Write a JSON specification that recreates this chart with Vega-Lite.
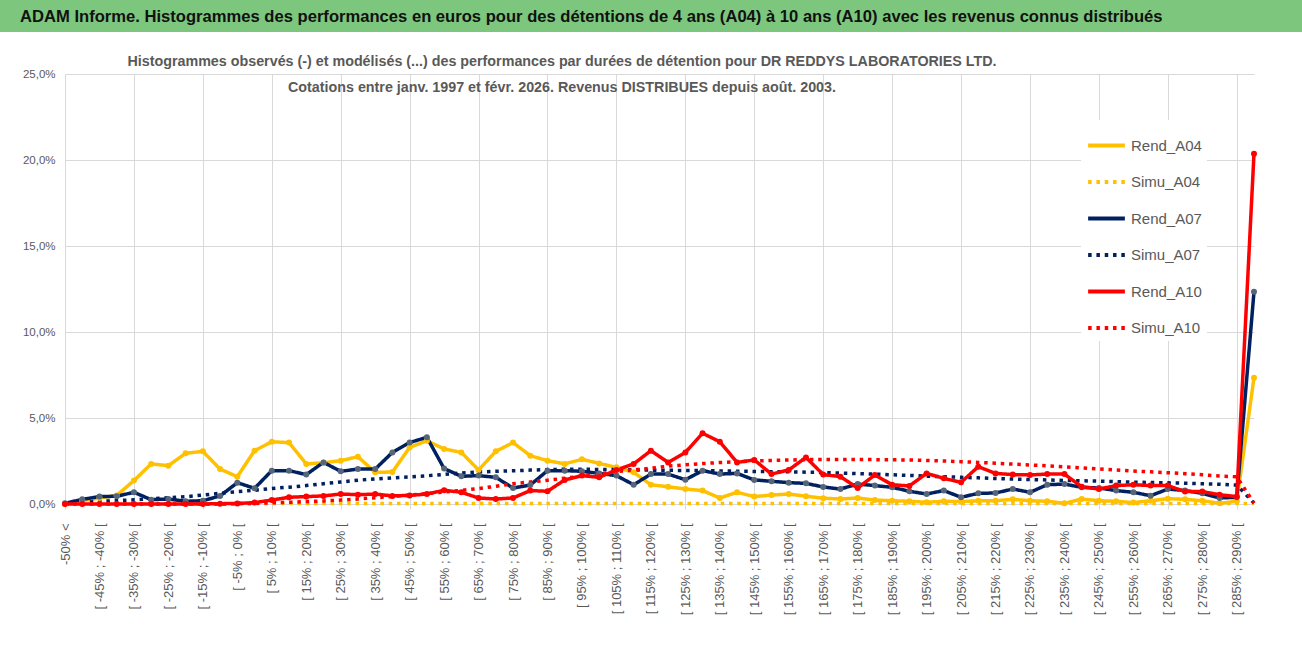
{
  "$schema": "https://vega.github.io/schema/vega-lite/v6.json",
  "background": "white",
  "padding": 0,
  "spacing": 22,
  "config": {"font": "Liberation Sans", "view": {"stroke": null}},
  "vconcat": [
    {
      "data": {"values": [{}]},
      "width": 1302,
      "height": 32,
      "view": {"fill": "#7DC67D", "stroke": null},
      "title": {
        "text": "ADAM Informe. Histogrammes des performances en euros pour des détentions de 4 ans (A04) à 10 ans (A10) avec les revenus connus distribués",
        "anchor": "start",
        "frame": "group",
        "dx": 20,
        "offset": -26,
        "font": "Liberation Sans",
        "fontSize": 16.6,
        "fontWeight": "bold",
        "color": "#111111"
      },
      "mark": {"type": "rect", "color": "#7DC67D"},
      "encoding": {}
    },
    {
      "width": 1302,
      "height": 430,
      "title": {
        "text": [
          "Histogrammes observés (-) et modélisés (...) des performances par durées de détention pour DR REDDYS LABORATORIES LTD.",
          "Cotations entre janv. 1997 et févr. 2026. Revenus DISTRIBUES depuis août. 2003."
        ],
        "anchor": "middle",
        "frame": "group",
        "dx": -89,
        "offset": -27,
        "font": "Liberation Sans",
        "fontSize": 14.3,
        "fontWeight": "bold",
        "color": "#595959",
        "lineHeight": 26
      },
      "data": {
        "values": [
          {"c": "-50% <", "Rend_A04": 0, "Simu_A04": 0, "Rend_A07": 0.04, "Simu_A07": 0, "Rend_A10": 0, "Simu_A10": 0},
          {"c": "[ -50% ; -45% [", "Rend_A04": 0.2, "Simu_A04": 0, "Rend_A07": 0.27, "Simu_A07": 0.08, "Rend_A10": 0, "Simu_A10": 0},
          {"c": "[ -45% ; -40% [", "Rend_A04": 0.35, "Simu_A04": 0, "Rend_A07": 0.43, "Simu_A07": 0.15, "Rend_A10": 0, "Simu_A10": 0},
          {"c": "[ -40% ; -35% [", "Rend_A04": 0.5, "Simu_A04": 0, "Rend_A07": 0.45, "Simu_A07": 0.2, "Rend_A10": 0, "Simu_A10": 0},
          {"c": "[ -35% ; -30% [", "Rend_A04": 1.36, "Simu_A04": 0, "Rend_A07": 0.68, "Simu_A07": 0.24, "Rend_A10": 0, "Simu_A10": 0},
          {"c": "[ -30% ; -25% [", "Rend_A04": 2.33, "Simu_A04": 0, "Rend_A07": 0.25, "Simu_A07": 0.3, "Rend_A10": 0, "Simu_A10": 0},
          {"c": "[ -25% ; -20% [", "Rend_A04": 2.23, "Simu_A04": 0, "Rend_A07": 0.29, "Simu_A07": 0.36, "Rend_A10": 0, "Simu_A10": 0},
          {"c": "[ -20% ; -15% [", "Rend_A04": 2.95, "Simu_A04": 0, "Rend_A07": 0.16, "Simu_A07": 0.42, "Rend_A10": 0, "Simu_A10": 0},
          {"c": "[ -15% ; -10% [", "Rend_A04": 3.06, "Simu_A04": 0, "Rend_A07": 0.19, "Simu_A07": 0.52, "Rend_A10": 0, "Simu_A10": 0},
          {"c": "[ -10% ; -5% [", "Rend_A04": 2.03, "Simu_A04": 0, "Rend_A07": 0.47, "Simu_A07": 0.62, "Rend_A10": 0.02, "Simu_A10": 0},
          {"c": "[ -5% ; 0% [", "Rend_A04": 1.59, "Simu_A04": 0.02, "Rend_A07": 1.24, "Simu_A07": 0.72, "Rend_A10": 0.03, "Simu_A10": 0.02},
          {"c": "[ 0% ; 5% [", "Rend_A04": 3.1, "Simu_A04": 0.03, "Rend_A07": 0.91, "Simu_A07": 0.8, "Rend_A10": 0.08, "Simu_A10": 0.04},
          {"c": "[ 5% ; 10% [", "Rend_A04": 3.62, "Simu_A04": 0.03, "Rend_A07": 1.94, "Simu_A07": 0.9, "Rend_A10": 0.23, "Simu_A10": 0.07},
          {"c": "[ 10% ; 15% [", "Rend_A04": 3.57, "Simu_A04": 0.03, "Rend_A07": 1.94, "Simu_A07": 0.98, "Rend_A10": 0.39, "Simu_A10": 0.1},
          {"c": "[ 15% ; 20% [", "Rend_A04": 2.33, "Simu_A04": 0.03, "Rend_A07": 1.71, "Simu_A07": 1.07, "Rend_A10": 0.43, "Simu_A10": 0.14},
          {"c": "[ 20% ; 25% [", "Rend_A04": 2.4, "Simu_A04": 0.03, "Rend_A07": 2.42, "Simu_A07": 1.18, "Rend_A10": 0.47, "Simu_A10": 0.18},
          {"c": "[ 25% ; 30% [", "Rend_A04": 2.52, "Simu_A04": 0.03, "Rend_A07": 1.9, "Simu_A07": 1.28, "Rend_A10": 0.58, "Simu_A10": 0.23},
          {"c": "[ 30% ; 35% [", "Rend_A04": 2.75, "Simu_A04": 0.03, "Rend_A07": 2.03, "Simu_A07": 1.38, "Rend_A10": 0.54, "Simu_A10": 0.29},
          {"c": "[ 35% ; 40% [", "Rend_A04": 1.84, "Simu_A04": 0.03, "Rend_A07": 2.03, "Simu_A07": 1.46, "Rend_A10": 0.58, "Simu_A10": 0.36},
          {"c": "[ 40% ; 45% [", "Rend_A04": 1.86, "Simu_A04": 0.03, "Rend_A07": 3.0, "Simu_A07": 1.52, "Rend_A10": 0.47, "Simu_A10": 0.44},
          {"c": "[ 45% ; 50% [", "Rend_A04": 3.29, "Simu_A04": 0.03, "Rend_A07": 3.57, "Simu_A07": 1.58, "Rend_A10": 0.5, "Simu_A10": 0.52},
          {"c": "[ 50% ; 55% [", "Rend_A04": 3.68, "Simu_A04": 0.03, "Rend_A07": 3.88, "Simu_A07": 1.64, "Rend_A10": 0.58, "Simu_A10": 0.61},
          {"c": "[ 55% ; 60% [", "Rend_A04": 3.2, "Simu_A04": 0.03, "Rend_A07": 2.06, "Simu_A07": 1.72, "Rend_A10": 0.8, "Simu_A10": 0.7},
          {"c": "[ 60% ; 65% [", "Rend_A04": 3.0, "Simu_A04": 0.03, "Rend_A07": 1.61, "Simu_A07": 1.8, "Rend_A10": 0.68, "Simu_A10": 0.79},
          {"c": "[ 65% ; 70% [", "Rend_A04": 1.98, "Simu_A04": 0.03, "Rend_A07": 1.65, "Simu_A07": 1.86, "Rend_A10": 0.35, "Simu_A10": 0.9},
          {"c": "[ 70% ; 75% [", "Rend_A04": 3.06, "Simu_A04": 0.03, "Rend_A07": 1.55, "Simu_A07": 1.9, "Rend_A10": 0.29, "Simu_A10": 1.03},
          {"c": "[ 75% ; 80% [", "Rend_A04": 3.57, "Simu_A04": 0.03, "Rend_A07": 0.93, "Simu_A07": 1.93, "Rend_A10": 0.35, "Simu_A10": 1.18},
          {"c": "[ 80% ; 85% [", "Rend_A04": 2.81, "Simu_A04": 0.03, "Rend_A07": 1.1, "Simu_A07": 1.97, "Rend_A10": 0.78, "Simu_A10": 1.28},
          {"c": "[ 85% ; 90% [", "Rend_A04": 2.52, "Simu_A04": 0.03, "Rend_A07": 1.94, "Simu_A07": 2.0, "Rend_A10": 0.74, "Simu_A10": 1.38},
          {"c": "[ 90% ; 95% [", "Rend_A04": 2.33, "Simu_A04": 0.03, "Rend_A07": 1.94, "Simu_A07": 2.02, "Rend_A10": 1.4, "Simu_A10": 1.5},
          {"c": "[ 95% ; 100% [", "Rend_A04": 2.6, "Simu_A04": 0.03, "Rend_A07": 1.9, "Simu_A07": 2.02, "Rend_A10": 1.65, "Simu_A10": 1.62},
          {"c": "[ 100% ; 105% [", "Rend_A04": 2.36, "Simu_A04": 0.03, "Rend_A07": 1.78, "Simu_A07": 2.01, "Rend_A10": 1.55, "Simu_A10": 1.75},
          {"c": "[ 105% ; 110% [", "Rend_A04": 2.13, "Simu_A04": 0.03, "Rend_A07": 1.65, "Simu_A07": 2.0, "Rend_A10": 1.98, "Simu_A10": 1.88},
          {"c": "[ 110% ; 115% [", "Rend_A04": 1.84, "Simu_A04": 0.03, "Rend_A07": 1.12, "Simu_A07": 1.98, "Rend_A10": 2.33, "Simu_A10": 1.98},
          {"c": "[ 115% ; 120% [", "Rend_A04": 1.12, "Simu_A04": 0.03, "Rend_A07": 1.74, "Simu_A07": 1.97, "Rend_A10": 3.1, "Simu_A10": 2.08},
          {"c": "[ 120% ; 125% [", "Rend_A04": 1.0, "Simu_A04": 0.03, "Rend_A07": 1.74, "Simu_A07": 1.96, "Rend_A10": 2.42, "Simu_A10": 2.2},
          {"c": "[ 125% ; 130% [", "Rend_A04": 0.87, "Simu_A04": 0.03, "Rend_A07": 1.41, "Simu_A07": 1.95, "Rend_A10": 3.0, "Simu_A10": 2.28},
          {"c": "[ 130% ; 135% [", "Rend_A04": 0.78, "Simu_A04": 0.03, "Rend_A07": 1.94, "Simu_A07": 1.94, "Rend_A10": 4.11, "Simu_A10": 2.35},
          {"c": "[ 135% ; 140% [", "Rend_A04": 0.35, "Simu_A04": 0.03, "Rend_A07": 1.74, "Simu_A07": 1.92, "Rend_A10": 3.62, "Simu_A10": 2.41},
          {"c": "[ 140% ; 145% [", "Rend_A04": 0.68, "Simu_A04": 0.03, "Rend_A07": 1.78, "Simu_A07": 1.91, "Rend_A10": 2.42, "Simu_A10": 2.46},
          {"c": "[ 145% ; 150% [", "Rend_A04": 0.43, "Simu_A04": 0.03, "Rend_A07": 1.4, "Simu_A07": 1.89, "Rend_A10": 2.56, "Simu_A10": 2.5},
          {"c": "[ 150% ; 155% [", "Rend_A04": 0.52, "Simu_A04": 0.03, "Rend_A07": 1.32, "Simu_A07": 1.88, "Rend_A10": 1.74, "Simu_A10": 2.53},
          {"c": "[ 155% ; 160% [", "Rend_A04": 0.58, "Simu_A04": 0.03, "Rend_A07": 1.24, "Simu_A07": 1.87, "Rend_A10": 1.98, "Simu_A10": 2.56},
          {"c": "[ 160% ; 165% [", "Rend_A04": 0.45, "Simu_A04": 0.03, "Rend_A07": 1.2, "Simu_A07": 1.85, "Rend_A10": 2.71, "Simu_A10": 2.58},
          {"c": "[ 165% ; 170% [", "Rend_A04": 0.34, "Simu_A04": 0.03, "Rend_A07": 0.99, "Simu_A07": 1.83, "Rend_A10": 1.71, "Simu_A10": 2.59},
          {"c": "[ 170% ; 175% [", "Rend_A04": 0.29, "Simu_A04": 0.03, "Rend_A07": 0.87, "Simu_A07": 1.8, "Rend_A10": 1.59, "Simu_A10": 2.59},
          {"c": "[ 175% ; 180% [", "Rend_A04": 0.35, "Simu_A04": 0.03, "Rend_A07": 1.16, "Simu_A07": 1.77, "Rend_A10": 0.93, "Simu_A10": 2.59},
          {"c": "[ 180% ; 185% [", "Rend_A04": 0.23, "Simu_A04": 0.03, "Rend_A07": 1.07, "Simu_A07": 1.74, "Rend_A10": 1.69, "Simu_A10": 2.58},
          {"c": "[ 185% ; 190% [", "Rend_A04": 0.19, "Simu_A04": 0.03, "Rend_A07": 0.97, "Simu_A07": 1.7, "Rend_A10": 1.12, "Simu_A10": 2.57},
          {"c": "[ 190% ; 195% [", "Rend_A04": 0.16, "Simu_A04": 0.03, "Rend_A07": 0.74, "Simu_A07": 1.66, "Rend_A10": 1.05, "Simu_A10": 2.56},
          {"c": "[ 195% ; 200% [", "Rend_A04": 0.1, "Simu_A04": 0.03, "Rend_A07": 0.58, "Simu_A07": 1.62, "Rend_A10": 1.78, "Simu_A10": 2.53},
          {"c": "[ 200% ; 205% [", "Rend_A04": 0.16, "Simu_A04": 0.03, "Rend_A07": 0.78, "Simu_A07": 1.59, "Rend_A10": 1.49, "Simu_A10": 2.5},
          {"c": "[ 205% ; 210% [", "Rend_A04": 0.14, "Simu_A04": 0.03, "Rend_A07": 0.39, "Simu_A07": 1.55, "Rend_A10": 1.26, "Simu_A10": 2.46},
          {"c": "[ 210% ; 215% [", "Rend_A04": 0.19, "Simu_A04": 0.03, "Rend_A07": 0.62, "Simu_A07": 1.52, "Rend_A10": 2.17, "Simu_A10": 2.42},
          {"c": "[ 215% ; 220% [", "Rend_A04": 0.19, "Simu_A04": 0.03, "Rend_A07": 0.64, "Simu_A07": 1.48, "Rend_A10": 1.78, "Simu_A10": 2.37},
          {"c": "[ 220% ; 225% [", "Rend_A04": 0.27, "Simu_A04": 0.03, "Rend_A07": 0.87, "Simu_A07": 1.45, "Rend_A10": 1.71, "Simu_A10": 2.32},
          {"c": "[ 225% ; 230% [", "Rend_A04": 0.19, "Simu_A04": 0.03, "Rend_A07": 0.68, "Simu_A07": 1.42, "Rend_A10": 1.69, "Simu_A10": 2.27},
          {"c": "[ 230% ; 235% [", "Rend_A04": 0.16, "Simu_A04": 0.03, "Rend_A07": 1.12, "Simu_A07": 1.4, "Rend_A10": 1.74, "Simu_A10": 2.22},
          {"c": "[ 235% ; 240% [", "Rend_A04": 0.04, "Simu_A04": 0.03, "Rend_A07": 1.16, "Simu_A07": 1.37, "Rend_A10": 1.74, "Simu_A10": 2.16},
          {"c": "[ 240% ; 245% [", "Rend_A04": 0.29, "Simu_A04": 0.03, "Rend_A07": 0.97, "Simu_A07": 1.35, "Rend_A10": 1.0, "Simu_A10": 2.1},
          {"c": "[ 245% ; 250% [", "Rend_A04": 0.19, "Simu_A04": 0.03, "Rend_A07": 0.93, "Simu_A07": 1.33, "Rend_A10": 0.87, "Simu_A10": 2.04},
          {"c": "[ 250% ; 255% [", "Rend_A04": 0.16, "Simu_A04": 0.03, "Rend_A07": 0.78, "Simu_A07": 1.3, "Rend_A10": 1.07, "Simu_A10": 1.98},
          {"c": "[ 255% ; 260% [", "Rend_A04": 0.08, "Simu_A04": 0.03, "Rend_A07": 0.68, "Simu_A07": 1.27, "Rend_A10": 1.12, "Simu_A10": 1.92},
          {"c": "[ 260% ; 265% [", "Rend_A04": 0.19, "Simu_A04": 0.03, "Rend_A07": 0.48, "Simu_A07": 1.25, "Rend_A10": 1.07, "Simu_A10": 1.87},
          {"c": "[ 265% ; 270% [", "Rend_A04": 0.31, "Simu_A04": 0.03, "Rend_A07": 0.87, "Simu_A07": 1.23, "Rend_A10": 1.07, "Simu_A10": 1.82},
          {"c": "[ 270% ; 275% [", "Rend_A04": 0.27, "Simu_A04": 0.03, "Rend_A07": 0.78, "Simu_A07": 1.21, "Rend_A10": 0.72, "Simu_A10": 1.76},
          {"c": "[ 275% ; 280% [", "Rend_A04": 0.19, "Simu_A04": 0.03, "Rend_A07": 0.62, "Simu_A07": 1.18, "Rend_A10": 0.72, "Simu_A10": 1.7},
          {"c": "[ 280% ; 285% [", "Rend_A04": 0.04, "Simu_A04": 0.03, "Rend_A07": 0.35, "Simu_A07": 1.15, "Rend_A10": 0.54, "Simu_A10": 1.63},
          {"c": "[ 285% ; 290% [", "Rend_A04": 0.16, "Simu_A04": 0.03, "Rend_A07": 0.39, "Simu_A07": 1.1, "Rend_A10": 0.43, "Simu_A10": 1.58},
          {"c": "> 290%", "Rend_A04": 7.34, "Simu_A04": 0.03, "Rend_A07": 12.34, "Simu_A07": 0.05, "Rend_A10": 20.37, "Simu_A10": 0.05}
        ]
      },
      "transform": [
        {"fold": ["Rend_A04", "Simu_A04", "Rend_A07", "Simu_A07", "Rend_A10", "Simu_A10"], "as": ["serie", "val"]}
      ],
      "encoding": {
        "x": {
          "field": "c",
          "type": "nominal",
          "sort": null,
          "scale": {"type": "point", "padding": 0, "range": [65, 1254]},
          "axis": {
            "title": null,
            "values": ["-50% <", "[ -45% ; -40% [", "[ -35% ; -30% [", "[ -25% ; -20% [", "[ -15% ; -10% [", "[ -5% ; 0% [", "[ 5% ; 10% [", "[ 15% ; 20% [", "[ 25% ; 30% [", "[ 35% ; 40% [", "[ 45% ; 50% [", "[ 55% ; 60% [", "[ 65% ; 70% [", "[ 75% ; 80% [", "[ 85% ; 90% [", "[ 95% ; 100% [", "[ 105% ; 110% [", "[ 115% ; 120% [", "[ 125% ; 130% [", "[ 135% ; 140% [", "[ 145% ; 150% [", "[ 155% ; 160% [", "[ 165% ; 170% [", "[ 175% ; 180% [", "[ 185% ; 190% [", "[ 195% ; 200% [", "[ 205% ; 210% [", "[ 215% ; 220% [", "[ 225% ; 230% [", "[ 235% ; 240% [", "[ 245% ; 250% [", "[ 255% ; 260% [", "[ 265% ; 270% [", "[ 275% ; 280% [", "[ 285% ; 290% ["],
            "labelAngle": -90,
            "labelAlign": "right",
            "labelBaseline": "middle",
            "labelFontSize": 13,
            "labelColor": "#595959",
            "labelPadding": 14,
            "labelOverlap": false,
            "domainColor": "#D9D9D9",
            "tickColor": "#D9D9D9",
            "tickSize": 5,
            "tickOpacity": {"condition": {"test": "indexof(['-50% <','[ -35% ; -30% [','[ -15% ; -10% [','[ 5% ; 10% [','[ 25% ; 30% [','[ 45% ; 50% [','[ 65% ; 70% [','[ 85% ; 90% [','[ 105% ; 110% [','[ 125% ; 130% [','[ 145% ; 150% [','[ 165% ; 170% [','[ 185% ; 190% [','[ 205% ; 210% [','[ 225% ; 230% [','[ 245% ; 250% [','[ 265% ; 270% [','[ 285% ; 290% ['], datum.value) >= 0", "value": 1}, "value": 0},
            "grid": true,
            "gridColor": "#D9D9D9",
            "gridOpacity": {"condition": {"test": "indexof(['-50% <','[ -35% ; -30% [','[ -15% ; -10% [','[ 5% ; 10% [','[ 25% ; 30% [','[ 45% ; 50% [','[ 65% ; 70% [','[ 85% ; 90% [','[ 105% ; 110% [','[ 125% ; 130% [','[ 145% ; 150% [','[ 165% ; 170% [','[ 185% ; 190% [','[ 205% ; 210% [','[ 225% ; 230% [','[ 245% ; 250% [','[ 265% ; 270% [','[ 285% ; 290% ['], datum.value) >= 0", "value": 1}, "value": 0}
          }
        },
        "y": {
          "field": "val",
          "type": "quantitative",
          "scale": {"domain": [0, 25], "nice": false},
          "axis": {
            "title": null,
            "values": [0, 5, 10, 15, 20, 25],
            "labelExpr": "replace(format(datum.value, '.1f'), '.', ',') + '%'",
            "labelFontSize": 11.5,
            "labelColor": "#595959",
            "labelPadding": 10,
            "offset": -65,
            "domain": false,
            "ticks": false,
            "gridColor": "#D9D9D9"
          }
        }
      },
      "layer": [
        {
          "mark": {"type": "line", "strokeWidth": 3.5, "strokeJoin": "round"},
          "encoding": {
            "stroke": {
              "field": "serie",
              "type": "nominal",
              "scale": {
                "domain": ["Rend_A04", "Simu_A04", "Rend_A07", "Simu_A07", "Rend_A10", "Simu_A10"],
                "range": ["#FFC000", "#FFC000", "#002060", "#002060", "#FF0000", "#FF0000"]
              },
              "legend": {
                "title": null,
                "orient": "none",
                "legendX": 1081,
                "legendY": 120,
                "padding": 5,
                "fillColor": "white",
                "symbolType": "stroke",
                "symbolSize": 1350,
                "symbolStrokeWidth": 4,
                "labelFontSize": 15,
                "labelColor": "#595959",
                "labelOffset": 4,
                "rowPadding": 7.5
              }
            },
            "strokeDash": {
              "field": "serie",
              "type": "nominal",
              "scale": {
                "domain": ["Rend_A04", "Simu_A04", "Rend_A07", "Simu_A07", "Rend_A10", "Simu_A10"],
                "range": [[1, 0], [3.5, 4.8], [1, 0], [3.5, 4.8], [1, 0], [3.5, 4.8]]
              },
              "legend": {
                "title": null,
                "orient": "none",
                "legendX": 1081,
                "legendY": 120,
                "padding": 5,
                "fillColor": "white",
                "symbolType": "stroke",
                "symbolSize": 1350,
                "symbolStrokeWidth": 4,
                "labelFontSize": 15,
                "labelColor": "#595959",
                "labelOffset": 4,
                "rowPadding": 7.5
              }
            }
          }
        },
        {
          "transform": [{"filter": {"field": "serie", "oneOf": ["Rend_A04", "Rend_A07", "Rend_A10"]}}],
          "mark": {"type": "point", "shape": "circle", "filled": true, "size": 36, "opacity": 1},
          "encoding": {
            "fill": {
              "field": "serie",
              "type": "nominal",
              "scale": {"domain": ["Rend_A04", "Rend_A07", "Rend_A10"], "range": ["#FFC000", "#56657A", "#FF0000"]},
              "legend": null
            }
          }
        }
      ]
    }
  ]
}
